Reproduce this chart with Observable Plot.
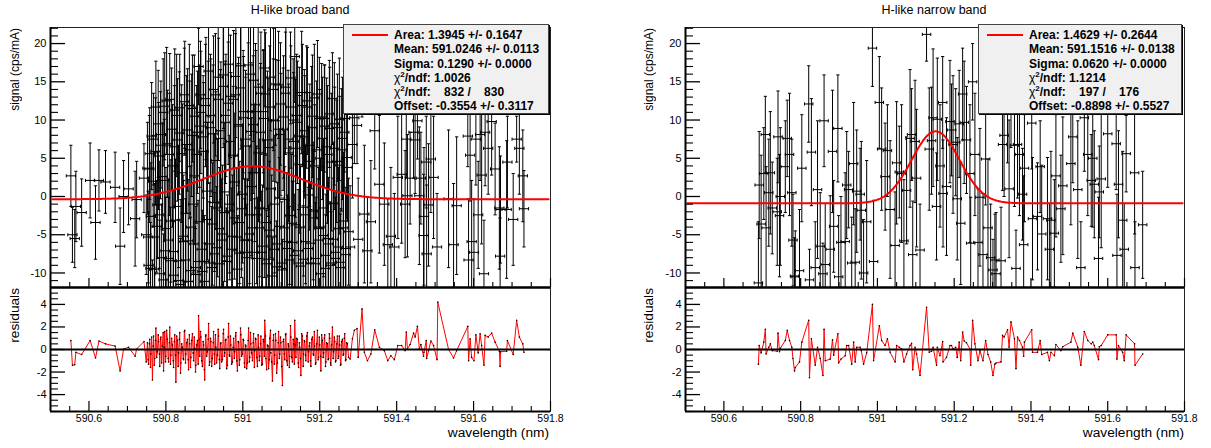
<!DOCTYPE html>
<html><head><meta charset="utf-8">
<script src="https://cdn.jsdelivr.net/npm/d3@7"></script>
<script src="https://cdn.jsdelivr.net/npm/@observablehq/plot@0.6"></script>
<style>
body{margin:0;background:#fff;}
#root{position:relative;width:1211px;height:448px;overflow:hidden;font-family:"Liberation Sans",Arial,Helvetica,sans-serif;color:#000;}
.abs{position:absolute;white-space:nowrap;}
.title{font-size:12.5px;line-height:16px;transform:translateX(-50%);}
.ytitle{writing-mode:vertical-rl;transform:rotate(180deg);}
.xtitle{font-size:13.7px;line-height:16px;transform:translateX(-100%);}
.stats{position:absolute;background:#f0f0f0;border:1px solid #444;box-shadow:1px 1px 0 #000;box-sizing:border-box;z-index:5;}
.stats .ln{position:absolute;left:50px;font-size:12px;font-weight:bold;line-height:14.3px;white-space:pre;}
.stats .key{position:absolute;height:2px;background:#ff0000;}
.chi{font-weight:normal;}
.sup{font-size:8px;position:relative;top:-5px;}
svg{position:absolute;}
</style></head>
<body><div id="root"></div>
<script>
// ---------------- data ----------------
const panelTitles = ["H-like broad band", "H-like narrow band"];
const signalLabel = "signal (cps/mA)";
const residualLabel = "residuals";
const wavelengthLabel = "wavelength (nm)";

const xDomain = [590.5, 591.8];
const signalDomain = [-11.9, 22.1];
const residualDomain = [-5.5, 5.5];
const xMajorTicks = [590.6, 590.8, 591, 591.2, 591.4, 591.6, 591.8];
const xMinorTicks = [590.55, 590.65, 590.7, 590.75, 590.85, 590.9, 590.95, 591.05, 591.1, 591.15, 591.25, 591.3, 591.35, 591.45, 591.5, 591.55, 591.65, 591.7, 591.75];
const signalMajorTicks = [-10, -5, 0, 5, 10, 15, 20];
const residualMajorTicks = [-4, -2, 0, 2, 4];

// fit parameters: [area, mean, sigma, offset]
const broadFit = [1.3945, 591.0246, 0.1290, -0.3554];
const narrowFit = [1.4629, 591.1516, 0.0620, -0.8898];

const broadStats = ["Area: 1.3945 +/- 0.1647", "Mean: 591.0246 +/- 0.0113", "Sigma: 0.1290 +/- 0.0000", "χ²/ndf: 1.0026", "χ²/ndf:    832 /    830", "Offset: -0.3554 +/- 0.3117"];
const narrowStats = ["Area: 1.4629 +/- 0.2644", "Mean: 591.1516 +/- 0.0138", "Sigma: 0.0620 +/- 0.0000", "χ²/ndf: 1.1214", "χ²/ndf:    197 /    176", "Offset: -0.8898 +/- 0.5527"];

const broadBinHalfWidth = 0.012;
const narrowBinHalfWidth = 0.011;

const broadWavelength = [
590.553,590.557,590.563,590.566,590.581,590.603,590.617,590.626,590.643,590.668,590.681,590.690,590.703,590.720,590.724,590.743,590.749,
590.752,590.755,590.758,590.761,590.765,590.768,590.771,590.774,590.778,590.781,
590.784,590.787,590.791,590.794,590.797,590.800,590.804,590.807,590.810,590.813,
590.817,590.820,590.823,590.826,590.830,590.833,590.836,590.839,590.843,590.846,
590.849,590.852,590.856,590.859,590.862,590.865,590.869,590.872,590.875,590.878,
590.882,590.885,590.888,590.891,590.895,590.898,590.901,590.904,590.908,590.911,
590.914,590.917,590.921,590.924,590.927,590.930,590.934,590.937,590.940,590.943,
590.947,590.950,590.953,590.956,590.960,590.963,590.966,590.969,590.973,590.976,
590.979,590.982,590.986,590.989,590.992,590.995,590.999,591.002,591.005,591.008,
591.012,591.015,591.018,591.021,591.025,591.028,591.031,591.034,591.038,591.041,
591.044,591.047,591.051,591.054,591.057,591.060,591.064,591.067,591.070,591.073,
591.077,591.080,591.083,591.086,591.090,591.093,591.096,591.099,591.103,591.106,
591.109,591.112,591.116,591.119,591.122,591.125,591.129,591.132,591.135,591.138,
591.142,591.145,591.148,591.151,591.155,591.158,591.161,591.164,591.168,591.171,
591.174,591.177,591.181,591.184,591.187,591.190,591.194,591.197,591.200,591.203,
591.207,591.210,591.213,591.216,591.220,591.223,591.226,591.229,591.233,591.236,
591.239,591.242,591.246,591.249,591.252,591.255,591.259,591.262,591.265,591.268,591.272,591.275,
591.279,591.285,591.290,591.297,591.300,591.310,591.316,591.324,591.333,591.343,
591.355,591.368,591.377,591.385,591.394,591.403,591.413,591.422,591.425,591.428,
591.435,591.444,591.448,591.454,591.459,591.463,591.470,591.471,591.477,591.478,
591.483,591.489,591.496,591.505,591.507,591.535,591.548,591.556,591.585,591.587,
591.591,591.595,591.601,591.606,591.612,591.617,591.621,591.627,591.630,591.638,
591.647,591.656,591.667,591.669,591.670,591.686,591.688,591.703,591.712,591.719,
591.728,591.731];

const broadSignal = [
2.7,-5.0,-5.5,-1.3,-2.1,2.1,-3.4,2.1,1.9,1.2,-6.5,0.0,1.0,-2.9,-0.4,2.4,-5.0,
3.7,-9.0,5.6,-2.6,-13.3,7.5,-5.3,11.7,-1.1,5.3,
-10.1,8.1,2.6,-10.9,11.8,-4.2,6.9,-8.1,12.7,-3.2,
4.0,-10.3,11.3,-13.5,7.4,-1.3,11.6,-8.4,3.1,-5.9,
13.3,-2.2,8.7,-11.1,6.1,-4.0,11.5,-6.2,2.7,-9.3,
8.4,17.0,-3.3,11.0,-9.8,5.9,-11.1,12.8,0.7,16.4,
-6.2,9.0,-3.6,14.0,-7.5,4.7,-1.5,12.7,-8.8,8.6,
-4.9,15.9,0.6,10.6,-7.8,17.3,-1.9,7.2,-5.2,12.7,
1.9,15.7,-9.5,9.2,-3.4,14.2,0.3,10.3,-7.3,6.6,
-5.7,17.2,-2.4,8.5,-4.1,15.2,3.1,11.1,-8.1,5.7,
-1.5,13.5,-6.5,10.2,16.8,-3.4,7.4,-8.2,11.7,1.0,
-10.4,14.0,-1.0,9.9,-6.2,14.6,-0.2,8.1,-9.6,10.4,
-4.1,14.3,-6.8,5.7,-2.5,11.7,-6.0,7.2,18.3,-3.7,
9.7,-8.7,4.2,-9.1,11.9,-1.4,7.8,-5.9,12.5,0.2,
6.7,-8.7,10.5,-2.8,4.0,-8.1,13.4,-4.2,5.0,-10.1,
7.6,-1.5,10.2,-7.7,5.5,-5.5,8.9,-9.0,12.8,-0.9,
6.3,-7.3,9.0,-4.2,4.1,-8.6,7.6,-3.2,10.2,-6.8,3.8,-4.6,
-6.6,6.8,10.3,9.3,-5.6,14.4,-2.3,-7.1,-3.3,8.6,
1.6,-1.0,-6.3,-5.2,-6.6,2.5,2.9,-1.0,7.5,0.1,
2.4,8.4,7.4,9.9,0.1,2.4,-5.1,-2.6,4.5,-7.5,
-1.1,4.9,2.5,-6.6,14.4,-0.3,-6.3,-1.2,7.9,-8.3,
5.4,-5.9,-7.3,7.5,-2.4,8.1,2.8,-10.1,8.4,6.3,
9.8,3.6,-1.5,-7.8,-1.7,-1.7,4.5,-3.0,7.5,6.3,
2.7,-1.6];

const broadError = [
4.0,3.6,3.8,4.6,4.4,4.9,4.8,4.0,4.1,4.6,5.0,4.7,4.7,6.2,5.0,4.5,5.2,
6,7,6,7,5,6,7,6,7,7,
7,7,7,6,7,8,7,8,6,8,
8,7,8,5,8,8,7,8,9,8,
7,9,8,7,9,8,7,8,9,8,
8,5,9,8,8,9,5,8,9,6,
8,9,8,7,8,9,9,8,7,9,
9,7,9,8,8,6,9,9,8,9,
9,8,7,9,8,8,9,8,7,9,
8,7,9,9,8,8,9,8,8,9,
9,8,8,9,5,9,9,7,8,9,
5,8,9,8,8,7,9,8,4,8,
8,8,7,9,9,8,8,9,6,9,
8,7,9,5,8,9,8,8,7,9,
8,7,8,9,8,8,7,8,9,6,
8,9,7,8,9,8,8,7,6,8,
8,8,7,8,9,7,8,9,7,8,7,7,
8,7,6,5,8,4,9,7,8,5,
9,8,6,9,7,8,9,7,5,8,
6,6,7,5,9,6,8,9,6,9,
8,7,8,7,3.5,9,8,9,4,8,
6,8,7,6,7,6,9,7,7,6,
7,6,8,5,7,9,6,6,3,6,
6,5];

const broadResidual = [
0.8,-1.4,-1.35,-0.25,-0.45,0.8,-0.75,0.75,0.5,0.3,-1.9,0.05,0.2,-0.6,0.05,0.7,-1.1,
0.6,-1.3,0.9,-0.4,-2.7,1.2,-0.8,1.9,-0.2,0.7,
-1.5,1.1,0.3,-1.9,1.6,-0.6,0.9,-1.1,2.0,-0.5,
0.4,-1.6,1.3,-2.9,0.8,-0.3,1.5,-1.2,0.2,-0.9,
1.7,-0.4,0.9,-1.8,0.5,-0.7,1.4,-1.0,0.1,-1.4,
0.8,3.0,-0.6,1.1,-1.5,0.4,-2.7,1.3,-0.2,2.3,
-1.1,0.7,-0.8,1.6,-1.3,0.2,-0.5,1.2,-1.7,0.6,
-0.9,1.8,-0.3,0.9,-1.4,2.3,-0.6,0.4,-1.1,1.0,
-0.2,1.5,-1.9,0.6,-0.9,1.3,-0.4,0.8,-1.6,0.3,
-1.2,1.9,-0.7,0.5,-1.0,1.4,-0.1,0.9,-1.5,0.2,
-0.6,1.2,-1.3,0.7,2.6,-0.8,0.4,-1.7,1.0,-0.3,
-2.8,1.3,-0.5,0.8,-1.2,1.6,-0.4,0.6,-3.2,0.9,
-0.9,1.4,-1.4,0.3,-0.6,1.1,-1.1,0.5,2.6,-0.7,
0.9,-1.6,0.2,-2.3,1.2,-0.4,0.7,-1.0,1.5,-0.2,
0.6,-1.5,1.1,-0.5,0.3,-1.2,1.7,-0.7,0.4,-1.9,
0.8,-0.3,1.3,-1.1,0.5,-0.8,1.0,-1.4,2.0,-0.2,
0.7,-1.0,1.2,-0.6,0.4,-1.3,0.9,-0.4,1.4,-0.9,0.5,-0.7,
-0.85,0.95,1.7,1.85,-0.7,3.6,-0.25,-1.0,-0.4,1.75,
0.2,-0.1,-1.0,-0.55,-0.9,0.35,0.35,-0.1,1.55,0.05,
0.45,1.45,1.1,2.05,0.05,0.45,-0.6,-0.25,0.8,-0.8,
-0.1,0.75,0.35,-0.9,4.2,0.0,-0.75,-0.1,2.05,-1.0,
0.95,-0.7,-1.0,1.3,-0.3,1.4,0.35,-1.4,1.25,1.1,
1.45,0.65,-0.15,-1.5,-0.2,-0.15,0.8,-0.45,2.6,1.1,
0.5,-0.25];

// further points of the dense core of the broad band (interleaved with the above)
const broadCoreWavelength = [
590.754,590.757,590.760,590.763,590.767,590.770,590.773,590.776,590.780,590.783,
590.786,590.789,590.793,590.796,590.799,590.802,590.806,590.809,590.812,590.815,
590.819,590.822,590.825,590.828,590.832,590.835,590.838,590.841,590.845,590.848,
590.851,590.854,590.858,590.861,590.864,590.867,590.871,590.874,590.877,590.880,
590.884,590.887,590.890,590.893,590.897,590.900,590.903,590.906,590.910,590.913,
590.916,590.919,590.923,590.926,590.929,590.932,590.936,590.939,590.942,590.945,
590.949,590.952,590.955,590.958,590.962,590.965,590.968,590.971,590.975,590.978,
590.981,590.984,590.988,590.991,590.994,590.997,591.001,591.004,591.007,591.010,
591.014,591.017,591.020,591.023,591.027,591.030,591.033,591.036,591.040,591.043,
591.046,591.049,591.053,591.056,591.059,591.062,591.066,591.069,591.072,591.075,
591.079,591.082,591.085,591.088,591.092,591.095,591.098,591.101,591.105,591.108,
591.111,591.114,591.118,591.121,591.124,591.127,591.131,591.134,591.137,591.140,
591.144,591.147,591.150,591.153,591.157,591.160,591.163,591.166,591.170,591.173,
591.176,591.179,591.183,591.186,591.189,591.192,591.196,591.199,591.202,591.205,
591.209,591.212,591.215,591.218,591.222,591.225,591.228,591.231,591.235,591.238,
591.241,591.244,591.248,591.251,591.254,591.257,591.261,591.264,591.267,591.270];

const broadCoreSignal = [
-5.3,3.6,-9.4,7.9,2.0,-9.5,5.9,-3.9,9.5,-2.4,
6.7,-8.0,11.0,2.1,-7.1,12.5,-5.7,5.5,-8.4,8.8,
-7.2,6.5,-3.1,10.6,-11.0,8.3,-11.5,5.6,-5.2,12.4,
-8.3,6.8,-5.8,11.9,-9.7,8.0,-1.0,10.5,-10.2,5.5,
-8.5,9.2,13.3,-6.9,7.8,-8.5,11.9,-3.0,9.7,-8.7,
10.6,-9.3,8.2,-0.8,13.3,-6.7,15.6,-4.2,7.6,-5.7,
14.4,-2.1,9.7,-8.5,12.2,-1.0,13.1,-6.9,5.4,-2.8,
13.3,-5.3,9.4,-7.4,17.1,-1.6,11.1,-5.7,7.5,-8.0,
11.1,-4.9,16.0,1.3,9.4,-7.3,12.0,-2.4,14.3,-4.1,
8.4,-7.3,11.1,-1.6,13.4,-8.8,6.4,-4.4,15.6,-5.2,
10.0,-6.9,14.7,-9.2,8.8,-3.9,12.1,-8.7,8.8,-0.4,
13.5,-5.9,7.5,-8.3,15.5,-3.5,10.0,-7.7,6.3,10.6,
-7.1,7.9,-4.0,13.6,-8.2,8.6,-2.4,11.7,-6.8,4.6,
-6.1,9.0,-1.9,12.9,-8.8,6.1,-5.7,10.2,-4.0,10.4,
-5.1,9.2,-9.4,6.5,-6.2,10.8,-8.7,4.5,-5.6,9.5,
-8.1,4.6,-6.6,10.1,-9.3,6.1,-4.1,8.4,-7.6,5.1];

const broadCoreError = [
6,7,6,7,6,7,7,6,7,7,
7,7,7,8,7,7,8,8,7,8,
8,8,8,8,8,8,6,9,8,7,
8,9,8,8,7,8,9,8,6,9,
8,8,7,9,8,6,8,9,8,8,
8,8,9,9,8,8,7,8,9,8,
8,9,8,7,8,9,8,8,9,8,
8,9,8,8,7,9,8,8,9,7,
9,8,8,9,9,7,8,9,8,8,
9,8,8,9,8,7,9,9,7,8,
8,8,8,6,9,9,8,8,8,9,
8,9,9,7,6,9,8,8,9,8,
8,9,8,8,7,8,9,8,8,9,
8,8,9,7,8,9,8,8,9,7,
9,8,7,9,8,7,8,9,8,8,
8,8,9,8,7,8,9,8,8,8];

const broadCoreResidual = [
-0.9,0.5,-1.6,1.1,0.3,-1.4,0.8,-0.7,1.3,-0.4,
0.9,-1.2,1.5,0.2,-1.1,1.7,-0.8,0.6,-1.3,1.0,
-1.0,0.7,-0.5,1.2,-1.5,0.9,-2.1,0.5,-0.8,1.6,
-1.2,0.6,-0.9,1.3,-1.6,0.8,-0.3,1.1,-2.0,0.4,
-1.3,0.9,1.6,-1.0,0.7,-1.8,1.2,-0.6,0.9,-1.4,
1.0,-1.5,0.6,-0.4,1.3,-1.2,1.8,-0.9,0.5,-1.1,
1.4,-0.6,0.8,-1.7,1.1,-0.5,1.2,-1.3,0.2,-0.8,
1.2,-1.0,0.7,-1.4,1.9,-0.6,0.9,-1.2,0.4,-1.7,
0.8,-1.1,1.5,-0.3,0.6,-1.6,1.0,-0.7,1.3,-1.0,
0.5,-1.4,0.9,-0.6,1.2,-1.8,0.3,-0.9,1.7,-1.1,
0.8,-1.3,1.4,-2.1,0.6,-0.8,1.1,-1.5,0.7,-0.4,
1.3,-1.0,0.5,-1.6,2.1,-0.7,0.9,-1.3,0.4,1.0,
-1.2,0.6,-0.8,1.4,-1.5,0.8,-0.5,1.2,-1.1,0.3,
-1.0,0.9,-0.4,1.6,-1.3,0.5,-0.9,1.1,-0.6,1.3,
-0.7,1.0,-1.5,0.6,-0.9,1.4,-1.2,0.4,-0.8,1.1,
-1.1,0.5,-0.8,1.2,-1.4,0.7,-0.5,1.0,-1.0,0.6];

const narrowWavelength = [
590.690,590.692,590.697,590.704,590.708,590.710,590.717,590.721,590.726,590.739,
590.741,590.745,590.747,590.760,590.765,590.771,590.777,590.780,590.784,590.786,
590.797,590.803,590.821,590.823,590.828,590.838,590.844,590.851,590.858,590.861,
590.864,590.877,590.883,590.886,590.897,590.899,590.905,590.916,590.920,590.925,
590.933,590.938,590.942,590.946,590.955,590.958,590.964,590.972,590.987,590.990,
591.005,591.011,591.020,591.026,591.033,591.046,591.050,591.057,591.063,591.069,
591.076,591.085,591.089,591.092,591.098,591.102,591.111,591.128,591.135,591.141,
591.145,591.154,591.156,591.163,591.170,591.171,591.180,591.189,591.193,591.197,
591.204,591.208,591.213,591.217,591.222,591.226,591.232,591.241,591.243,591.248,
591.254,591.262,591.267,591.275,591.282,591.288,591.295,591.301,591.306,591.309,
591.322,591.326,591.330,591.339,591.343,591.348,591.357,591.361,591.365,591.370,
591.378,591.381,591.383,591.402,591.404,591.417,591.424,591.428,591.443,591.448,
591.452,591.461,591.465,591.478,591.483,591.504,591.509,591.522,591.530,591.539,
591.548,591.557,591.561,591.565,591.576,591.578,591.583,591.600,591.622,591.624,
591.628,591.639,591.643,591.648,591.670,591.671,591.691];

const narrowSignal = [
-11.3,1.5,-3.6,3.0,8.1,-4.1,0.5,3.1,-1.5,-2.0,
7.8,-2.5,0.0,3.9,7.6,5.5,0.5,-5.7,-10.4,-10.5,
-9.7,3.7,12.1,-10.9,5.8,-9.3,0.9,-6.5,-10.1,9.9,
-8.9,-6.9,5.9,-3.9,8.9,-10.5,-6.0,-5.9,1.5,0.9,
-8.7,4.3,-8.6,0.7,0.3,-1.8,-10.0,-3.3,19.4,-8.5,
12.3,6.2,2.6,6.0,-1.7,-6.4,4.4,3.2,3.0,-5.8,
0.8,7.6,8.1,-7.6,7.2,2.4,-7.0,21.2,6.2,7.3,
10.3,-1.3,10.1,4.0,12.3,0.4,1.3,9.8,8.7,6.8,
7.1,-0.3,9.5,-3.5,13.4,9.7,7.4,3.0,-6.1,15.0,
5.5,-6.0,-0.1,-7.6,4.9,-4.1,-8.0,-9.6,-8.3,-10.1,
-8.4,6.8,8.0,11.4,1.0,11.4,6.7,-9.4,6.8,5.5,
0.3,-6.3,3.7,9.6,-2.9,-2.6,3.9,-4.9,-2.9,-6.9,
-3.1,-4.8,2.7,-1.6,1.4,4.3,7.8,0.9,-9.3,10.3,
5.5,2.1,5.0,1.6,-8.1,0.6,2.3,8.2,6.9,-7.7,
1.6,-3.1,-6.9,5.6,3.1,-9.3,-3.7];

const narrowError = [
8,7,9,6,5,8,7,8,6,7,
6,8,9,6,5,8,7,6,5,6,
8,7,5,4,7,6,9,7,4,6,
8,7,8,6,7,8,6,9,7,5,
6,8,7,8,6,9,7,8,5,8,
6,8,7,6,9,7,8,6,9,8,
7,9,6,7,8,9,6,3.5,8,7,
9,7,8,8,6,7,9,8,6,9,
7,8,7,8,6,8,7,9,6,5,
8,7,9,8,6,9,7,4,6,8,
7,6,8,7,9,5,8,5,7,8,
6,9,7,6,8,7,6,9,8,6,
9,7,8,7,9,8,6,9,6,7,
8,6,9,7,8,6,9,7,6,8,
7,9,6,5,8,6,7];

const narrowResidual = [
-1.3,0.35,-0.3,0.65,1.8,-0.4,0.2,0.5,-0.1,-0.15,
1.45,-0.2,0.1,0.8,1.7,0.8,0.2,-0.8,-1.9,-1.6,
-1.1,0.65,2.6,-2.5,0.95,-1.4,0.2,-0.8,-2.3,1.8,
-1.0,-0.85,0.85,-0.5,1.4,-1.2,-0.85,-0.55,0.35,0.35,
-1.3,0.65,-1.1,0.2,0.2,-0.1,-1.3,-0.3,4.0,-1.0,
2.1,0.8,0.35,0.95,-0.25,-1.1,0.35,0.2,0.05,-1.1,
-0.4,0.35,0.55,-1.8,0.2,-0.4,-2.3,3.75,-0.25,-0.15,
0.2,-1.4,0.2,-0.55,0.7,-1.1,-0.7,0.35,0.35,0.05,
0.2,-0.7,0.65,-1.0,1.55,0.75,0.6,0.05,-1.4,2.6,
0.5,-1.0,-0.1,-1.0,0.8,-0.45,-1.1,-2.3,-1.3,-1.2,
-1.1,1.25,1.1,1.75,0.2,2.45,0.95,-1.7,1.1,0.8,
0.2,-0.6,0.65,1.75,-0.25,-0.25,0.8,-0.45,-0.25,-1.0,
-0.25,-0.55,0.45,-0.1,0.25,0.65,1.45,0.2,-1.4,1.6,
0.8,0.5,0.65,0.35,-0.9,0.25,0.35,1.3,1.3,-0.85,
0.35,-0.25,-1.0,1.3,0.5,-1.4,-0.4];

// ---------------- helpers ----------------
const FONT = '"Liberation Sans", Arial, Helvetica, sans-serif';
const fmt = d => String(Math.round(d * 10) / 10);
const signalMinorTicks = d3.range(-11, 23).filter(v => v % 5 !== 0);
const residualMinorTicks = d3.range(-5.5, 5.51, 0.5).map(v => Math.round(v * 10) / 10).filter(v => v % 2 !== 0);

function rowsOf(xs, ys, es, rs, ex) {
  const n = Math.min(xs.length, ys.length, es.length, rs.length);
  return d3.range(n).map(i => ({x: xs[i], y: ys[i], e: es[i], r: rs[i], ex}));
}
function gauss(p, x) {
  const [area, mean, sigma, offset] = p;
  return offset + area / (sigma * Math.sqrt(2 * Math.PI)) * Math.exp(-0.5 * ((x - mean) / sigma) ** 2);
}
function fitCurve(p) {
  return d3.range(590.505, 591.796, 0.002).map(x => ({x, y: gauss(p, x)}));
}
const capH = {draw(ctx, size) { const r = Math.sqrt(size / Math.PI); ctx.moveTo(-r, 0); ctx.lineTo(r, 0); }};
const capV = {draw(ctx, size) { const r = Math.sqrt(size / Math.PI); ctx.moveTo(0, -r); ctx.lineTo(0, r); }};
const svgStyle = {background: "none", overflow: "visible", fontFamily: FONT, color: "black"};

function topPlot(rows, curve, marginLeft, marginRight) {
  const capOpts = {r: 1.6, stroke: "black", fill: "none", strokeWidth: 1, clip: true};
  return Plot.plot({
    width: 560, height: 290, marginLeft, marginRight, marginTop: 27, marginBottom: 3,
    x: {domain: xDomain}, y: {domain: signalDomain},
    style: svgStyle,
    marks: [
      Plot.link(rows, {x1: "x", x2: "x", y1: d => d.y - d.e, y2: d => d.y + d.e, stroke: "black", strokeWidth: 1, clip: true}),
      Plot.link(rows, {x1: d => d.x - d.ex, x2: d => d.x + d.ex, y1: "y", y2: "y", stroke: "black", strokeWidth: 1, clip: true}),
      Plot.dot(rows, {x: "x", y: d => d.y + d.e, symbol: capH, ...capOpts}),
      Plot.dot(rows, {x: "x", y: d => d.y - d.e, symbol: capH, ...capOpts}),
      Plot.dot(rows, {x: d => d.x - d.ex, y: "y", symbol: capV, ...capOpts}),
      Plot.dot(rows, {x: d => d.x + d.ex, y: "y", symbol: capV, ...capOpts}),
      Plot.line(curve, {x: "x", y: "y", stroke: "#ff0000", strokeWidth: 2, clip: true}),
      Plot.frame({stroke: "#222", strokeWidth: 1}),
      Plot.ruleX([xDomain[0]], {stroke: "black", strokeWidth: 2}),
      Plot.ruleY([signalDomain[0]], {stroke: "black", strokeWidth: 2}),
      Plot.axisY({ticks: signalMajorTicks, tickSize: -15, tickPadding: 19, tickFormat: fmt, label: null, fontSize: 11, strokeWidth: 1.3}),
      Plot.axisY({ticks: signalMinorTicks, tickSize: -8, tickFormat: () => "", label: null, strokeWidth: 1.1}),
      Plot.axisX({ticks: xMajorTicks, tickSize: -9, tickFormat: () => "", label: null, strokeWidth: 1.2}),
      Plot.axisX({ticks: xMinorTicks, tickSize: -5, tickFormat: () => "", label: null, strokeWidth: 1.1})
    ]
  });
}

function bottomPlot(rows, marginLeft, marginRight) {
  return Plot.plot({
    width: 560, height: 168, marginLeft, marginRight, marginTop: 7, marginBottom: 37,
    x: {domain: xDomain}, y: {domain: residualDomain},
    style: svgStyle,
    marks: [
      Plot.line(rows, {x: "x", y: "r", stroke: "#ff0000", strokeWidth: 1, clip: true}),
      Plot.dot(rows, {x: "x", y: "r", r: 0.8, fill: "black", stroke: "none", clip: true}),
      Plot.ruleY([0], {stroke: "black", strokeWidth: 2}),
      Plot.frame({stroke: "#222", strokeWidth: 1}),
      Plot.ruleX([xDomain[0]], {stroke: "black", strokeWidth: 2}),
      Plot.ruleY([residualDomain[0]], {stroke: "black", strokeWidth: 2}),
      Plot.ruleY([residualDomain[1]], {stroke: "black", strokeWidth: 2}),
      Plot.axisY({ticks: residualMajorTicks, tickSize: -15, tickPadding: 19, tickFormat: fmt, label: null, fontSize: 11, strokeWidth: 1.3}),
      Plot.axisY({ticks: residualMinorTicks, tickSize: -8, tickFormat: () => "", label: null, strokeWidth: 1.1}),
      Plot.axisX({ticks: xMajorTicks, tickSize: -10, tickFormat: () => "", label: null, strokeWidth: 1.2}),
      Plot.axisX({ticks: xMinorTicks, tickSize: -5, tickFormat: () => "", label: null, strokeWidth: 1.1}),
      Plot.axisX({ticks: xMajorTicks, tickSize: 0, tickPadding: 3, tickFormat: fmt, label: null, fontSize: 10.5})
    ]
  });
}

function addDiv(root, cls, style, html) {
  const d = document.createElement("div");
  d.className = cls;
  d.setAttribute("style", style);
  d.innerHTML = html;
  root.appendChild(d);
  return d;
}
function statsLine(s) {
  if (s.startsWith("χ²")) return '<span class="chi">χ</span><span class="sup">2</span>' + s.slice(2);
  return s;
}

// ---------------- build ----------------
const root = document.getElementById("root");
const broadRows = d3.sort(
  rowsOf(broadWavelength, broadSignal, broadError, broadResidual, broadBinHalfWidth)
    .concat(rowsOf(broadCoreWavelength, broadCoreSignal, broadCoreError, broadCoreResidual, broadBinHalfWidth)),
  d => d.x);
const narrowRows = rowsOf(narrowWavelength, narrowSignal, narrowError, narrowResidual, narrowBinHalfWidth);

const panels = [
  {left: 0, mL: 50, mR: 10, rows: broadRows, fit: broadFit, stats: broadStats, title: panelTitles[0], titleX: 300, boxX: 343, boxW: 206, frameRight: 549, yTitleX: 15},
  {left: 635, mL: 50, mR: 11, rows: narrowRows, fit: narrowFit, stats: narrowStats, title: panelTitles[1], titleX: 934, boxX: 978, boxW: 204, frameRight: 1184, yTitleX: 649}
];

for (const p of panels) {
  const top = topPlot(p.rows, fitCurve(p.fit), p.mL, p.mR);
  top.style.left = p.left + "px"; top.style.top = "0px";
  root.appendChild(top);
  const bot = bottomPlot(p.rows, p.mL, p.mR);
  bot.style.left = p.left + "px"; bot.style.top = "280px";
  root.appendChild(bot);

  addDiv(root, "abs title", `left:${p.titleX}px;top:2px;`, p.title);
  addDiv(root, "abs ytitle", `left:${p.yTitleX - 8}px;top:28px;font-size:12px;line-height:16px;`, signalLabel);
  addDiv(root, "abs ytitle", `left:${p.yTitleX - 8}px;top:288px;font-size:13.7px;line-height:16px;`, residualLabel);
  addDiv(root, "abs xtitle", `left:${p.frameRight}px;top:425px;`, wavelengthLabel);

  const box = addDiv(root, "stats", `left:${p.boxX}px;top:24px;width:${p.boxW}px;height:90px;`, "");
  addDiv(box, "key", "left:8px;top:9px;width:36px;", "");
  p.stats.forEach((s, i) => addDiv(box, "ln", `top:${(2.9 + i * 14.3).toFixed(1)}px;`, statsLine(s)));
}
</script>
</body></html>
